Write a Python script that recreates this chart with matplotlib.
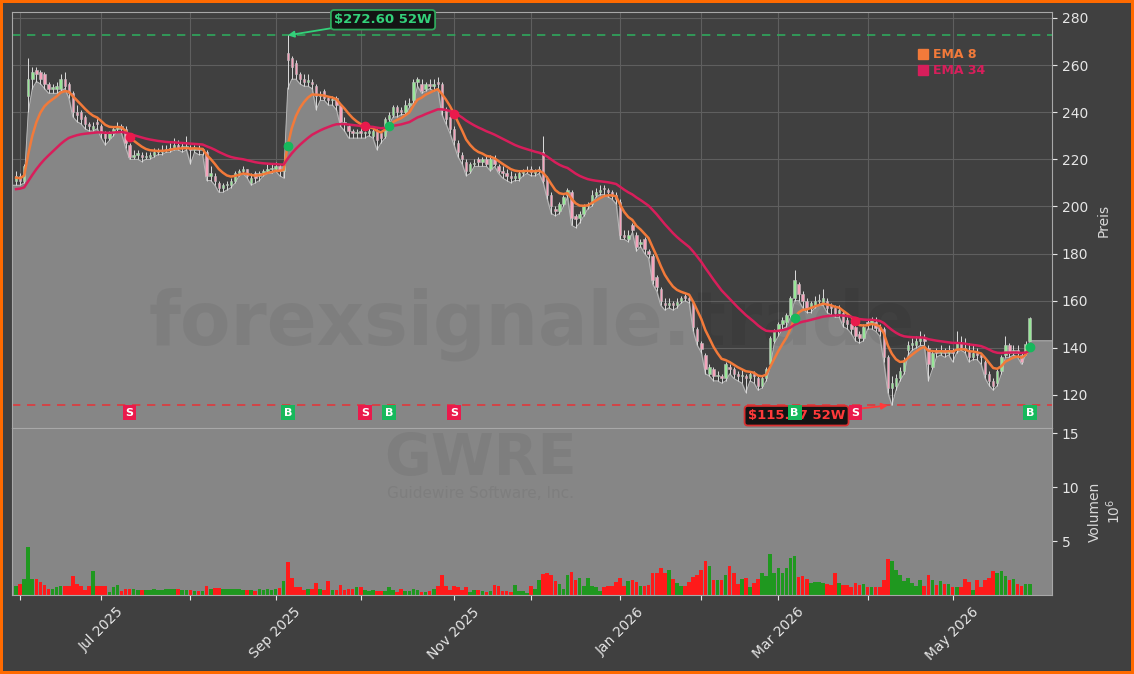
import numpy as np
import pandas as pd
import matplotlib
matplotlib.use('Agg')
import matplotlib.pyplot as plt
from matplotlib.lines import Line2D
from matplotlib.transforms import blended_transform_factory

# daily OHLC (USD), 30 May 2025 .. 29 May 2026
opens = [
    211, 213, 211, 247, 254, 258, 257, 256, 252, 250,
    250, 250, 254, 252, 248, 240, 240, 238, 235, 233,
    236, 234, 231, 229, 231, 233, 234, 233, 226, 221,
    222, 222, 221, 221, 222, 223, 223, 224, 224, 225,
    226, 225, 225, 225, 224, 225, 224, 223, 213, 213,
    210, 208, 209, 209, 211, 214, 215, 216, 210, 214,
    213, 214, 215, 216, 216, 217, 215, 265, 263, 261,
    256, 254, 253, 253, 251, 247, 249, 246, 245, 246,
    243, 236, 234, 232, 231, 232, 231, 231, 230, 232,
    231, 230, 237, 239, 242, 241, 240, 243, 245, 253,
    252, 250, 252, 251, 253, 252, 241, 238, 233, 227,
    222, 219, 215, 218, 220, 219, 220, 216, 220, 217,
    215, 214, 213, 212, 212, 214, 215, 216, 214, 215,
    223, 212, 205, 199, 198, 201, 205, 206, 196, 195,
    197, 200, 201, 205, 206, 208, 207, 206, 205, 202,
    188, 186, 192, 188, 184, 186, 181, 179, 170, 165,
    159, 158, 159, 158, 160, 162, 161, 159, 148, 142,
    137, 129, 131, 128, 128, 127, 132, 131, 129, 128,
    128, 127, 129, 127, 124, 127, 133, 143, 147, 150,
    151, 154, 161, 167, 163, 160, 157, 158, 160, 159,
    160, 158, 157, 155, 155, 152, 150, 149, 146, 144,
    151, 150, 151, 149, 148, 136, 123, 124, 127, 130,
    139, 141, 141, 143, 144, 140, 132, 139, 138, 139,
    138, 139, 139, 142, 140, 139, 136, 138, 137, 134,
    129, 126, 125, 130, 137, 141, 138, 139, 137, 138,
    143,
]
highs = [
    215, 214, 218, 263, 259, 259, 258, 257, 253, 252,
    253, 256, 257, 253, 249, 243, 241, 239, 236, 236,
    238, 235, 232, 232, 234, 236, 235, 234, 227, 224,
    224, 223, 223, 223, 225, 225, 226, 226, 227, 229,
    228, 227, 230, 226, 226, 226, 225, 224, 217, 214,
    211, 210, 211, 212, 215, 216, 217, 216, 214, 215,
    215, 216, 218, 218, 219, 218, 219, 272.6, 264, 262,
    257, 256, 256, 254, 252, 249, 250, 247, 247, 247,
    244, 238, 235, 233, 233, 234, 232, 234, 233, 233,
    232, 238, 240, 243, 243, 242, 245, 246, 254, 255,
    254, 253, 254, 254, 255, 253, 242, 239, 234, 228,
    223, 220, 219, 220, 221, 221, 222, 222, 222, 218,
    217, 216, 215, 214, 215, 216, 217, 217, 216, 217,
    230, 213, 206, 200, 202, 205, 208, 207, 197, 198,
    201, 202, 207, 208, 209, 209, 208, 207, 206, 203,
    190, 190, 193, 189, 186, 187, 182, 180, 171, 166,
    161, 161, 160, 161, 162, 163, 162, 160, 149, 143,
    138, 133, 132, 130, 129, 134, 133, 132, 130, 131,
    129, 130, 130, 128, 128, 132, 145, 148, 151, 153,
    155, 162, 173, 168, 164, 161, 160, 162, 163, 165,
    161, 159, 158, 158, 156, 153, 151, 150, 147, 150,
    152, 153, 153, 150, 149, 137, 128, 129, 132, 136,
    143, 144, 145, 147, 146, 141, 139, 140, 141, 140,
    141, 140, 147, 145, 144, 142, 141, 140, 138, 135,
    130, 127, 131, 137, 145, 142, 141, 141, 138, 143,
    153,
]
lows = [
    209, 209, 210, 240, 250, 253, 252, 250, 248, 248,
    248, 249, 250, 246, 238, 236, 235, 233, 232, 232,
    233, 229, 226, 228, 230, 232, 231, 225, 220, 220,
    220, 219, 220, 220, 221, 222, 222, 223, 223, 224,
    224, 223, 224, 218, 223, 222, 222, 211, 211, 209,
    206, 206, 207, 208, 210, 213, 214, 212, 209, 210,
    211, 213, 214, 214, 215, 213, 212, 250, 254, 254,
    252, 251, 251, 250, 241, 245, 245, 243, 243, 241,
    234, 232, 229, 229, 229, 229, 229, 230, 229, 224,
    227, 229, 235, 238, 238, 239, 239, 242, 244, 251,
    248, 249, 250, 249, 250, 239, 235, 231, 226, 221,
    218, 213, 214, 217, 217, 217, 217, 215, 217, 214,
    212, 211, 210, 211, 211, 213, 214, 213, 213, 214,
    210, 203, 197, 196, 197, 200, 204, 192, 191, 193,
    196, 199, 200, 204, 205, 205, 204, 203, 201, 186,
    186, 185, 189, 181, 183, 180, 178, 167, 164, 158,
    156, 157, 156, 157, 159, 160, 159, 147, 141, 138,
    129, 128, 126, 126, 125, 126, 129, 127, 126, 125,
    121, 126, 125, 122, 123, 126, 132, 142, 145, 148,
    149, 153, 160, 160, 157, 155, 155, 157, 158, 158,
    155, 154, 153, 153, 149, 148, 146, 143, 142, 143,
    148, 148, 147, 145, 134, 121, 115.57, 122, 126, 129,
    137, 139, 140, 141, 141, 126, 131, 136, 137, 136,
    137, 134, 138, 139, 138, 134, 135, 135, 133, 127,
    124, 122, 124, 129, 136, 136, 137, 136, 133, 137,
    143,
]
closes = [
    213, 211, 217, 254, 257, 256, 254, 252, 250, 250,
    251, 254, 251, 248, 240, 239, 237, 235, 234, 234,
    235, 231, 229, 231, 233, 234, 233, 227, 221, 222,
    222, 221, 221, 222, 223, 223, 224, 224, 225, 226,
    225, 225, 225, 224, 225, 224, 224, 213, 214, 211,
    208, 209, 209, 211, 214, 215, 216, 213, 212, 212,
    214, 215, 216, 216, 217, 215, 217, 262, 259, 256,
    254, 253, 253, 252, 247, 247, 246, 245, 245, 243,
    236, 235, 232, 231, 231, 231, 231, 232, 232, 228,
    229, 237, 239, 242, 240, 240, 243, 244, 253, 254,
    249, 252, 251, 252, 252, 241, 237, 233, 228, 223,
    220, 215, 218, 218, 219, 220, 218, 220, 218, 215,
    214, 213, 212, 213, 214, 215, 215.5, 214.5, 215, 216,
    211, 205, 200, 198, 201, 204, 207, 195, 194.5, 197,
    200, 201, 205, 206, 207, 207.5, 206, 204.5, 203, 188,
    187, 188, 190, 183, 185, 182, 180, 169, 166, 160,
    158, 159, 158, 159.5, 161, 161, 160.5, 149, 143, 139.5,
    131, 132, 128, 128, 127, 133, 131, 129, 128, 128,
    127, 129, 128, 124, 127, 131, 144, 147, 150, 152,
    154, 161, 169, 163, 160, 157, 159, 160, 160, 161,
    157, 157, 155, 156, 151, 150, 148, 145, 144, 149,
    150, 152, 148.5, 147, 136, 123, 125, 127, 130, 135,
    141, 142, 143, 144, 143, 133, 138, 138, 139, 138,
    139, 138, 142, 140, 139, 136, 138, 137, 136, 129,
    126, 124, 130, 136, 141, 138, 139, 138, 134, 141.5,
    152.5,
]
# volume in millions of shares
volumes = [
    0.8, 1.0, 1.5, 4.5, 1.5, 1.5, 1.2, 0.9, 0.6, 0.6,
    0.75, 0.8, 0.85, 0.85, 1.75, 1.0, 0.8, 0.5, 0.85, 2.2,
    0.8, 0.85, 0.85, 0.3, 0.75, 0.9, 0.4, 0.6, 0.6, 0.6,
    0.5, 0.5, 0.45, 0.5, 0.6, 0.5, 0.45, 0.55, 0.55, 0.55,
    0.55, 0.5, 0.45, 0.5, 0.4, 0.4, 0.35, 0.85, 0.6, 0.65,
    0.65, 0.6, 0.6, 0.6, 0.55, 0.55, 0.45, 0.45, 0.45, 0.35,
    0.55, 0.45, 0.55, 0.5, 0.6, 0.65, 1.3, 3.1, 1.6, 0.75,
    0.75, 0.5, 0.6, 0.6, 1.1, 0.6, 0.45, 1.3, 0.5, 0.45,
    0.9, 0.5, 0.6, 0.6, 0.7, 0.7, 0.5, 0.35, 0.5, 0.35,
    0.35, 0.4, 0.7, 0.5, 0.3, 0.55, 0.35, 0.35, 0.6, 0.45,
    0.3, 0.3, 0.35, 0.6, 0.8, 1.85, 0.8, 0.5, 0.8, 0.7,
    0.5, 0.7, 0.3, 0.45, 0.5, 0.4, 0.3, 0.4, 0.9, 0.85,
    0.4, 0.4, 0.3, 0.9, 0.35, 0.35, 0.2, 0.85, 0.6, 1.4,
    1.95, 2.0, 1.9, 1.3, 1.05, 0.6, 1.9, 2.1, 1.4, 1.6,
    0.8, 1.55, 0.85, 0.7, 0.35, 0.7, 0.85, 0.8, 1.2, 1.55,
    0.8, 1.3, 1.35, 1.2, 0.85, 0.85, 0.9, 2.0, 2.05, 2.5,
    2.05, 2.3, 1.45, 1.15, 0.85, 0.85, 1.25, 1.65, 1.85, 2.3,
    3.2, 2.65, 1.35, 1.35, 1.35, 1.9, 2.7, 2.0, 1.0, 1.45,
    1.55, 0.7, 1.1, 1.45, 2.0, 1.75, 3.85, 2.05, 2.5, 2.0,
    2.5, 3.4, 3.65, 1.65, 1.8, 1.45, 1.1, 1.25, 1.25, 1.15,
    1.0, 0.95, 2.0, 1.1, 0.95, 0.9, 0.75, 1.1, 0.95, 1.05,
    0.75, 0.75, 0.75, 0.7, 1.35, 3.3, 3.15, 2.3, 1.9, 1.3,
    1.55, 1.15, 0.85, 1.35, 0.85, 1.85, 1.35, 0.95, 1.3, 1.0,
    1.05, 0.75, 0.75, 0.7, 1.45, 1.2, 0.5, 1.35, 0.75, 1.35,
    1.55, 2.2, 2.0, 2.2, 1.75, 1.35, 1.45, 1.0, 0.8, 1.05,
    1.05,
]

market_holidays = ['2025-06-19', '2025-07-04', '2025-09-01', '2025-11-27', '2025-12-25',
                   '2026-01-01', '2026-01-19', '2026-02-16', '2026-04-03', '2026-05-25']
high_52w = 272.60
low_52w = 115.57
ema_spans = [8, 34]
ema_start = [212.0, 207.0]   # where the two EMA lines start at the left edge
signal_days = [28, 67, 86, 92, 108, 192, 207, 250]
signal_kinds = ['S', 'B', 'S', 'B', 'S', 'B', 'S', 'B']

BG = '#404040'
FILL = '#868686'
UP_BODY, DOWN_BODY = '#98e698', '#f5a3bb'
EMA_COLORS = ['#f27a3a', '#d81e5b']
GREEN_SIG, RED_SIG = '#17b85c', '#ea1a4c'

dates = pd.bdate_range('2025-05-30', periods=len(closes), freq='C', holidays=market_holidays)
x = np.arange(len(closes))
o = np.array(opens, dtype=float)
h = np.array(highs, dtype=float)
l = np.array(lows, dtype=float)
c = np.array(closes, dtype=float)
v = np.array(volumes, dtype=float)


def ema(values, span, start):
    alpha = 2.0 / (span + 1)
    out = np.empty(len(values))
    prev = start
    for i, val in enumerate(values):
        prev = alpha * val + (1 - alpha) * prev
        out[i] = prev
    return out


emas = [ema(c, s, st) for s, st in zip(ema_spans, ema_start)]

x_left = -1
x_right = len(c) + 4.5
fig = plt.figure(figsize=(11.34, 6.74), dpi=100, facecolor=BG,
                 edgecolor='#ff6a00', linewidth=3)
ax = fig.add_axes([0.0106, 0.365, 0.9171, 0.6172])
axv = fig.add_axes([0.0106, 0.1172, 0.9171, 0.2478], sharex=ax)

# ---- price panel
ax.set_facecolor(BG)
ax.set_axisbelow(True)
ax.grid(color='#5f5f5f', lw=0.8)
xf = np.concatenate([[x_left], x, [x_right]])
lf = np.concatenate([[l[0]], l, [l[-1]]])
ax.fill_between(xf, lf, 0, color=FILL, zorder=1)
ax.plot(xf, lf, color='#b8b8b8', lw=0.7, zorder=1.5)
ax.text(0.5, 0.25, 'forexsignale.trade', transform=ax.transAxes, fontsize=53,
        fontweight='bold', color='black', alpha=0.055, ha='center', va='center', zorder=2)

ax.vlines(x, l, h, color='#dcdcdc', lw=0.7, zorder=3)
up = c >= o
body_bottom = np.minimum(o, c)
body_height = np.maximum(np.abs(c - o), 0.5)
ax.bar(x, body_height, bottom=body_bottom, width=0.6,
       color=np.where(up, UP_BODY, DOWN_BODY), edgecolor='#c0c0c0', lw=0.4, zorder=4)

for line, col in zip(emas, EMA_COLORS):
    ax.plot(x, line, color=col, lw=1.8, zorder=5)

ax.axhline(high_52w, color='#2fa85c', ls='--', lw=1.2, dashes=(5, 4), zorder=2.5)
ax.axhline(low_52w, color='#e0393c', ls='--', lw=1.2, dashes=(5, 4), zorder=2.5)

ax.annotate(r'\$272.60 52W', xy=(67, high_52w), xytext=(90.5, 279.2),
            color='#33d17a', fontsize=9.5, fontweight='bold', ha='center', va='center',
            bbox=dict(boxstyle='round,pad=0.25', fc='#141414', ec='#2fa85c', lw=1.3),
            arrowprops=dict(arrowstyle='-|>', color='#33d17a', lw=1.3, mutation_scale=9,
                            shrinkA=0, shrinkB=0), zorder=7)
ax.annotate(r'\$115.57 52W', xy=(215, low_52w), xytext=(192.5, 111.2),
            color='#ff3a3a', fontsize=9.5, fontweight='bold', ha='center', va='center',
            bbox=dict(boxstyle='round,pad=0.25', fc='#141414', ec='#d83030', lw=1.3),
            arrowprops=dict(arrowstyle='-|>', color='#ff3a3a', lw=1.3, mutation_scale=9,
                            shrinkA=0, shrinkB=0), zorder=7)

tr = blended_transform_factory(ax.transData, ax.transAxes)
for day, kind in zip(signal_days, signal_kinds):
    col = GREEN_SIG if kind == 'B' else RED_SIG
    ax.plot(day, emas[0][day], 'o', color=col, markersize=6, zorder=6)
    ax.text(day, 0.037, kind, transform=tr, color='white', fontsize=8, fontweight='bold',
            ha='center', va='center', zorder=8,
            bbox=dict(boxstyle='square,pad=0.25', fc=col, ec='none'))

handles = [Line2D([], [], ls='', marker='s', markersize=7, color=col) for col in EMA_COLORS]
ax.legend(handles, ['EMA 8', 'EMA 34'], loc='upper left', bbox_to_anchor=(0.86, 0.94),
          frameon=False, labelcolor=EMA_COLORS, prop={'weight': 'bold', 'size': 9},
          handlelength=0.8, handletextpad=0.4, labelspacing=0.25)

ax.set_xlim(x_left, x_right)
ax.set_ylim(106, 282.5)
ax.set_yticks(range(120, 281, 20))
ax.yaxis.tick_right()
ax.yaxis.set_label_position('right')
ax.set_ylabel('Preis', color='#d8d8d8', fontsize=10, labelpad=6)
ax.tick_params(axis='y', colors='#e6e6e6', labelsize=10)
ax.tick_params(axis='x', labelbottom=False, length=0)
for sp in ax.spines.values():
    sp.set_color('#a8a8a8')

# ---- volume panel
axv.set_facecolor(FILL)
axv.text(0.45, 0.81, 'GWRE', transform=axv.transAxes, fontsize=41, fontweight='bold',
         color='black', alpha=0.06, ha='center', va='center', zorder=0)
axv.text(0.45, 0.61, 'Guidewire Software, Inc.', transform=axv.transAxes, fontsize=11,
         color='black', alpha=0.06, ha='center', va='center', zorder=0)
axv.bar(x, v, width=0.9, color=np.where(up, '#1f981f', '#ff1a1a'), zorder=2)
axv.set_ylim(0, 15.5)
axv.set_yticks([5, 10, 15])
axv.yaxis.tick_right()
axv.yaxis.set_label_position('right')
axv.set_ylabel('Volumen\n$10^6$', color='#d8d8d8', fontsize=10, labelpad=6)
axv.tick_params(axis='y', colors='#e6e6e6', labelsize=10)

month_start = [i for i in range(len(dates)) if i == 0 or dates[i].month != dates[i - 1].month][1:]
month_labels = [dates[i].strftime('%b %Y') if dates[i].month % 2 == 1 else '' for i in month_start]
axv.set_xticks(month_start)
axv.set_xticklabels(month_labels, rotation=45, ha='center')
axv.tick_params(axis='x', colors='#e6e6e6', labelsize=10)
for sp in axv.spines.values():
    sp.set_color('#a8a8a8')

fig.savefig('out.png', dpi=100, facecolor=fig.get_facecolor(), edgecolor=fig.get_edgecolor())
